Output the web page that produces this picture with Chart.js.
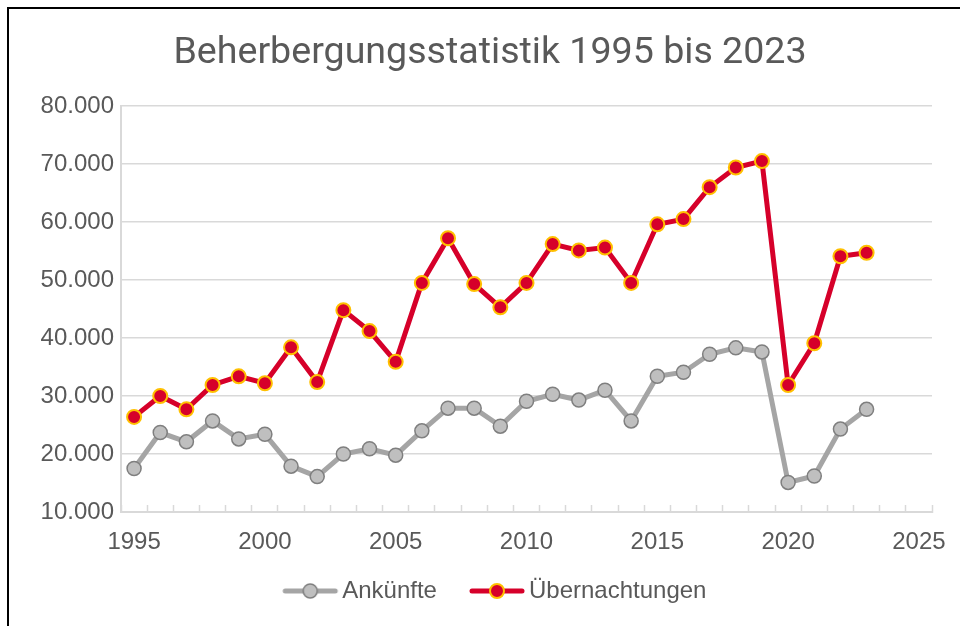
<!DOCTYPE html>
<html>
<head>
<meta charset="utf-8">
<script src="https://cdn.jsdelivr.net/npm/chart.js@4/dist/chart.umd.min.js"></script>
<style>
  html, body { margin: 0; padding: 0; background: #fff; }
  #wrap { position: relative; width: 960px; height: 626px; overflow: hidden; background: #fff; }
  #frame { position: absolute; left: 7px; top: 7px; width: 1000px; height: 700px; border-left: 2px solid #000; border-top: 2px solid #000; box-sizing: border-box; pointer-events: none; }
  #cv { position: absolute; left: 0; top: 0; }
</style>
</head>
<body>
<div id="wrap">
  <canvas id="cv" width="980" height="626"></canvas>
  <div id="frame"></div>
</div>
<script>
const titleText = 'Beherbergungsstatistik 1995 bis 2023';
const years = [1995,1996,1997,1998,1999,2000,2001,2002,2003,2004,2005,2006,2007,2008,2009,2010,2011,2012,2013,2014,2015,2016,2017,2018,2019,2020,2021,2022,2023];
const ankuenfte = [17500,23700,22100,25700,22600,23400,17900,16100,20000,20900,19800,24000,27900,27900,24800,29100,30300,29300,31000,25700,33400,34100,37200,38300,37600,15100,16200,24300,27700];
const uebernachtungen = [26400,30000,27700,31900,33400,32200,38400,32400,44800,41200,35900,49500,57200,49300,45300,49500,56200,55100,55600,49500,59600,60500,66000,69400,70500,31900,39100,54100,54700];
const seriesNames = ['Ankünfte', 'Übernachtungen'];
const xTickLabels = [1995, 2000, 2005, 2010, 2015, 2020, 2025];
const yTicks = [10000,20000,30000,40000,50000,60000,70000,80000];

const txt = '#595959';
const gridCol = '#d9d9d9';
const labelFont = { family: '"Liberation Sans", Arial, sans-serif', size: 24 };

function fmt(v) {
  return String(Math.round(v)).replace(/\B(?=(\d{3})+(?!\d))/g, '.');
}

const PSW = 70;
const ICON_W = PSW + 24;
function legendIcon(lineCol, fill, border, bw) {
  const c = document.createElement('canvas');
  c.width = ICON_W; c.height = 20;
  const g = c.getContext('2d');
  const x0 = ICON_W - 4 - 56;
  g.strokeStyle = lineCol; g.lineWidth = 5; g.lineCap = 'round';
  g.beginPath(); g.moveTo(x0 + 3, 10); g.lineTo(x0 + 53, 10); g.stroke();
  g.beginPath(); g.arc(x0 + 28, 10, 7, 0, Math.PI * 2);
  g.fillStyle = fill; g.fill();
  g.lineWidth = bw; g.strokeStyle = border; g.stroke();
  return c;
}
const icons = [
  legendIcon('#a5a5a5', '#bfbfbf', '#7f7f7f', 1.5),
  legendIcon('#d6002a', '#d6002a', '#ffc000', 2)
];

new Chart(document.getElementById('cv'), {
  type: 'line',
  data: {
    datasets: [
      {
        label: seriesNames[0],
        data: years.map((y, i) => ({ x: y, y: ankuenfte[i] })),
        borderColor: '#a5a5a5',
        borderWidth: 5,
        pointRadius: 7,
        pointBackgroundColor: '#bfbfbf',
        pointBorderColor: '#7f7f7f',
        pointBorderWidth: 1.5,
        tension: 0,
        order: 2
      },
      {
        label: seriesNames[1],
        data: years.map((y, i) => ({ x: y, y: uebernachtungen[i] })),
        borderColor: '#d6002a',
        borderWidth: 5,
        pointRadius: 7,
        pointBackgroundColor: '#d6002a',
        pointBorderColor: '#ffc000',
        pointBorderWidth: 2,
        tension: 0,
        order: 1
      }
    ]
  },
  options: {
    responsive: false,
    animation: false,
    layout: { padding: { left: 0, right: 0, top: 26, bottom: 13 } },
    plugins: {
      title: {
        display: true,
        text: titleText,
        color: txt,
        font: { family: 'Roboto, sans-serif', size: 37.6, weight: 'normal', lineHeight: 1.2 },
        padding: { top: 5.5, bottom: 29.4 }
      },
      legend: {
        position: 'bottom',
        labels: {
          usePointStyle: true,
          pointStyleWidth: PSW,
          padding: 10,
          color: txt,
          font: labelFont,
          generateLabels(chart) {
            return chart.data.datasets.map((ds, i) => ({
              text: i === chart.data.datasets.length - 1 ? ds.label + '  ' : ds.label,
              pointStyle: icons[i],
              fillStyle: 'rgba(0,0,0,0)',
              strokeStyle: 'rgba(0,0,0,0)',
              lineWidth: 0,
              fontColor: txt,
              datasetIndex: i,
              hidden: false
            }));
          }
        }
      },
      tooltip: { enabled: false }
    },
    scales: {
      x: {
        type: 'linear',
        min: 1994.5,
        max: 2025.5,
        afterBuildTicks(scale) {
          const t = [];
          for (let v = 1994.5; v <= 2025.5001; v += 0.5) t.push({ value: v });
          scale.ticks = t;
        },
        afterFit(scale) { scale.height = 57; },
        ticks: {
          autoSkip: false,
          maxRotation: 0,
          minRotation: 0,
          color: txt,
          font: labelFont,
          padding: 23,
          callback(v) { return xTickLabels.includes(v) ? String(v) : ''; }
        },
        grid: {
          drawOnChartArea: false,
          drawTicks: true,
          tickLength: -7,
          tickWidth: 1.5,
          tickColor(ctx) { return (ctx.tick && ctx.tick.value % 1 !== 0) ? gridCol : 'rgba(0,0,0,0)'; }
        },
        border: { display: true, color: gridCol, width: 2 }
      },
      y: {
        min: 10000,
        max: 80000,
        afterBuildTicks(scale) { scale.ticks = yTicks.map(v => ({ value: v })); },
        afterFit(scale) { scale.width = 121; },
        ticks: {
          color: txt,
          font: labelFont,
          padding: 7,
          callback(v) { return fmt(v); }
        },
        grid: { color: gridCol, lineWidth: 1.5, drawTicks: false },
        border: { display: true, color: gridCol, width: 2 }
      },
      yRight: {
        position: 'right',
        min: 0,
        max: 1,
        afterFit(scale) { scale.width = 48; },
        ticks: { display: false },
        grid: { display: false, drawTicks: false },
        border: { display: false }
      }
    }
  }
});
</script>
</body>
</html>
